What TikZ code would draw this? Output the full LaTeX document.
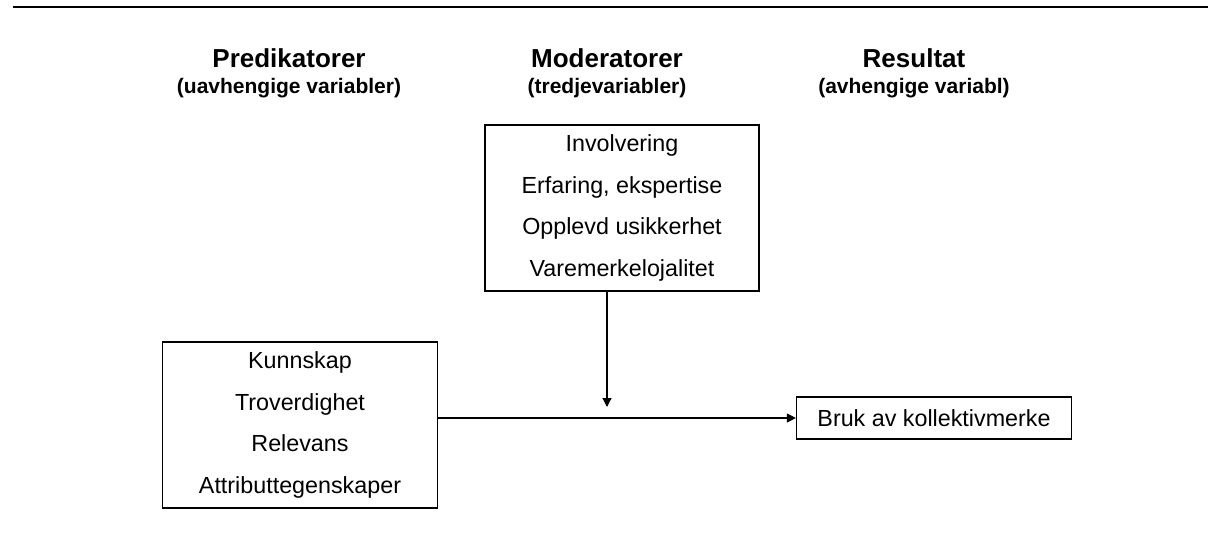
\documentclass[tikz,border=0pt]{standalone}
\usepackage{fontspec}
\setmainfont{Liberation Sans}
\usetikzlibrary{arrows.meta}

\tikzset{
    varbox/.style={draw, line width=1.2pt, align=center, inner sep=0pt,
        font=\fontsize{23.3}{41.7}\selectfont},
    colhead/.style={font=\bfseries\fontsize{26}{28}\selectfont, inner sep=0pt},
    colsub/.style={font=\bfseries\fontsize{21}{24}\selectfont, inner sep=0pt}
}

\begin{document}
\begin{tikzpicture}[x=1pt, y=-1pt, >={Triangle[length=9pt,width=9pt]}]
    \useasboundingbox (0,0) rectangle (1208,540);

    % rule at the top
    \draw[line width=2.5pt] (13,7) -- (1208,7);

    % column headings
    \node[colhead] (predhead) at (289,58) {Predikatorer};
    \node[colsub]  (predsub)  at (289,88) {(uavhengige variabler)};
    \node[colhead] (modhead)  at (607,58) {Moderatorer};
    \node[colsub]  (modsub)   at (607,88) {(tredjevariabler)};
    \node[colhead] (reshead)  at (914,58) {Resultat};
    \node[colsub]  (ressub)   at (914,88) {(avhengige variabl)};

    % boxes
    \node[varbox, minimum width=274pt, minimum height=166pt] (mod) at (622,208)
        {Involvering\\Erfaring, ekspertise\\Opplevd usikkerhet\\Varemerkelojalitet};
    \node[varbox, minimum width=275pt, minimum height=166pt] (pred) at (300,425)
        {Kunnskap\\Troverdighet\\Relevans\\Attributtegenskaper};
    \node[varbox, minimum width=275pt, minimum height=42pt] (bruk) at (934,418)
        {Bruk av kollektivmerke};

    % arrows
    \coordinate (meet) at (607,407);
    \draw[->, line width=1.2pt] (mod.south -| meet) -- (meet);
    \draw[->, line width=1.2pt] (bruk.west -| pred.east) -- (bruk.west);
\end{tikzpicture}
\end{document}
